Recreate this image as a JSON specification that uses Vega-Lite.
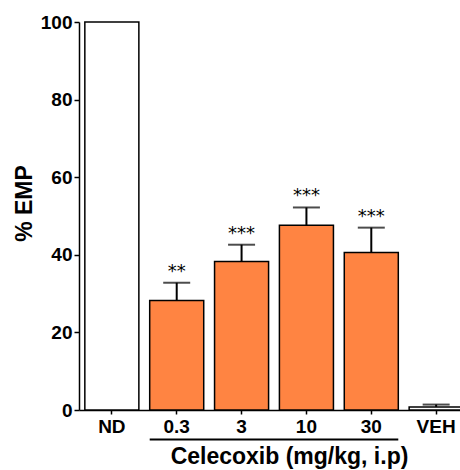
{
  "$schema": "https://vega.github.io/schema/vega-lite/v6.json",
  "autosize": "none",
  "width": 390,
  "height": 388,
  "padding": {"left": 79, "top": 22, "right": 0, "bottom": 60},
  "background": "white",
  "config": {
    "view": {"stroke": null},
    "font": "Liberation Sans"
  },
  "data": {
    "values": [
      {"group": "ND", "value": 100, "err": null, "stars": "", "kind": "ND"},
      {"group": "0.3", "value": 28.2, "err": 32.8, "stars": "**", "kind": "Celecoxib"},
      {"group": "3", "value": 38.3, "err": 42.6, "stars": "***", "kind": "Celecoxib"},
      {"group": "10", "value": 47.6, "err": 52.2, "stars": "***", "kind": "Celecoxib"},
      {"group": "30", "value": 40.6, "err": 47.0, "stars": "***", "kind": "Celecoxib"},
      {"group": "VEH", "value": 0.8, "err": 1.4, "stars": "", "kind": "VEH"}
    ]
  },
  "encoding": {
    "x": {
      "field": "group",
      "type": "nominal",
      "sort": null,
      "scale": {"paddingInner": 0.167, "paddingOuter": 0.09},
      "axis": {
        "title": "Celecoxib (mg/kg, i.p)",
        "titleX": 210,
        "titleFontSize": 23,
        "titleFont": "Liberation Sans",
        "titleFontWeight": "bold",
        "titleColor": "black",
        "titlePadding": 9,
        "labelFont": "Liberation Sans",
        "labelFontSize": 19,
        "labelFontWeight": "bold",
        "labelColor": "black",
        "labelAngle": 0,
        "labelPadding": 3,
        "domainColor": "black",
        "domainWidth": 1.5,
        "tickColor": "black",
        "tickSize": 4,
        "tickWidth": 1.5
      }
    }
  },
  "layer": [
    {
      "mark": {"type": "bar", "stroke": "black", "strokeWidth": 1.5},
      "encoding": {
        "y": {
          "field": "value",
          "type": "quantitative",
          "scale": {"domain": [0, 100], "nice": false},
          "axis": {
            "title": "% EMP",
            "titleFont": "Liberation Sans",
            "titleFontSize": 23,
            "titleFontWeight": "bold",
            "titleColor": "black",
            "titlePadding": 4,
            "titleY": 181,
            "values": [0, 20, 40, 60, 80, 100],
            "grid": false,
            "labelFont": "Liberation Sans",
            "labelFontSize": 19,
            "labelFontWeight": "bold",
            "labelColor": "black",
            "labelPadding": 2,
            "domainColor": "black",
            "domainWidth": 1.5,
            "tickColor": "black",
            "tickSize": 5,
            "tickWidth": 1.5
          }
        },
        "fill": {
          "field": "kind",
          "type": "nominal",
          "scale": {"domain": ["ND", "Celecoxib", "VEH"], "range": ["white", "#ff8442", "white"]},
          "legend": null
        }
      }
    },
    {
      "transform": [{"filter": "datum.err != null"}],
      "mark": {"type": "rule", "stroke": "black", "strokeWidth": 2},
      "encoding": {
        "y": {"field": "value", "type": "quantitative"},
        "y2": {"field": "err"}
      }
    },
    {
      "transform": [{"filter": "datum.err != null"}],
      "mark": {"type": "tick", "color": "black", "size": 27, "thickness": 2, "orient": "horizontal"},
      "encoding": {
        "y": {"field": "err", "type": "quantitative"}
      }
    },
    {
      "transform": [{"filter": "datum.err != null"}],
      "mark": {"type": "text", "font": "DejaVu Sans", "fontSize": 18, "baseline": "middle", "dy": -11, "color": "black"},
      "encoding": {
        "y": {"field": "err", "type": "quantitative"},
        "text": {"field": "stars"}
      }
    },
    {
      "data": {"values": [{}]},
      "mark": {"type": "rule", "stroke": "black", "strokeWidth": 2, "xOffset": -27, "x2Offset": 27},
      "encoding": {
        "x": {"datum": "0.3"},
        "x2": {"datum": "30"},
        "y": {"datum": -7.6}
      }
    }
  ]
}
